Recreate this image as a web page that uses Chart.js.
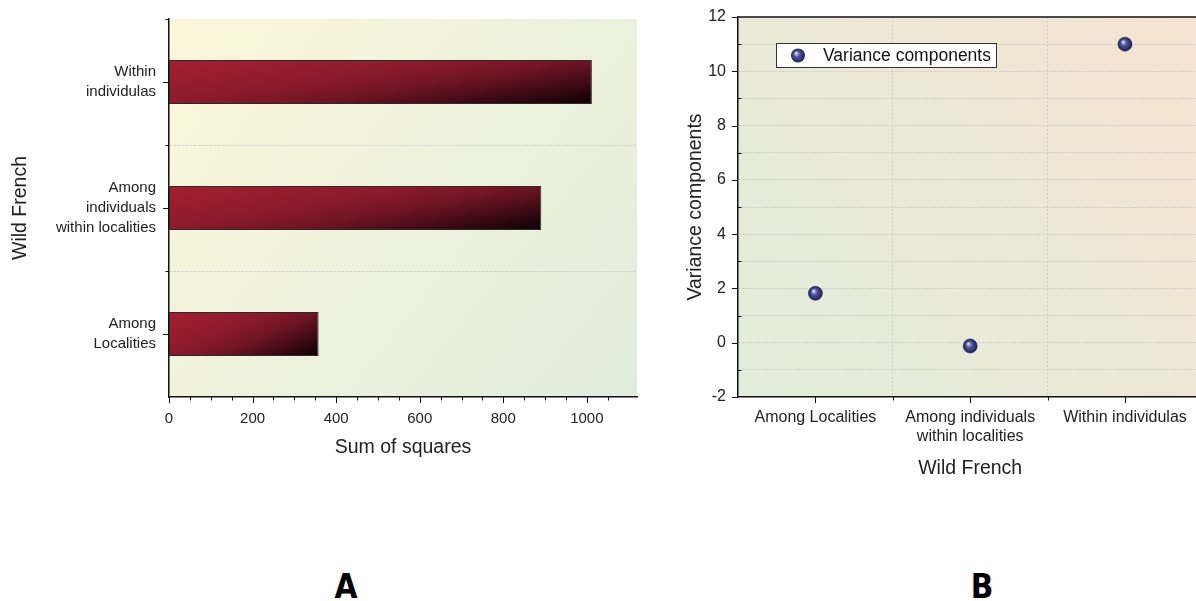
<!DOCTYPE html>
<html>
<head>
<meta charset="utf-8">
<script src="https://cdn.jsdelivr.net/npm/chart.js@4.4.1/dist/chart.umd.min.js"></script>
<style>
html, body { margin: 0; padding: 0; background: #fff; width: 1196px; height: 601px; overflow: hidden; position: relative; }
#caixaA { position: absolute; left: 0; top: 0; }
#caixaB { position: absolute; left: 680px; top: 0; }
.painel { position: absolute; top: 567px; line-height: 1; font: bold 33px 'Liberation Sans Narrow', 'DejaVu Sans Condensed', 'Liberation Sans', sans-serif; color: #000; transform: translateX(-50%); }
</style>
</head>
<body>
<div id="caixaA"><canvas id="graficoA" width="640" height="470"></canvas></div>
<div id="caixaB"><canvas id="graficoB" width="530" height="490"></canvas></div>
<div class="painel" style="left:346px">A</div>
<div class="painel" style="left:982px">B</div>
<script>
Chart.defaults.font.family = "'Liberation Sans', Arial, sans-serif";
Chart.defaults.color = '#222';

// dados
const categorias = ['Among Localities', 'Among individuals within localities', 'Within individulas'];
const rotulosA = [['Among', 'Localities'], ['Among', 'individuals', 'within localities'], ['Within', 'individulas']];
const rotulosB = ['Among Localities', ['Among individuals', 'within localities'], 'Within individulas'];
const somaQuadrados = [358, 891, 1012];
const componentesVariancia = [1.82, -0.12, 11.0];
const eixoSoma = [0, 1120];        // min, max
const passosSoma = [200, 50];      // rotulo, marca menor
const eixoVariancia = [-2, 12];
const passosVariancia = [2, 1];

function gradeCor(c) {
    if (!c.tick || c.index === 0) return 'rgba(0,0,0,0)';
    if (c.scale.type === 'linear' && c.index === c.scale.ticks.length - 1) return 'rgba(0,0,0,0)';
    return '#cacaca';
}

// tamanho fixo do eixo, sem o espaco extra dos rotulos nas pontas
function fixaEixo(s, largura, altura) {
    if (largura) s.width = largura;
    if (altura) s.height = altura;
    s.paddingTop = 0;
    s.paddingBottom = 0;
    s.paddingLeft = 0;
    s.paddingRight = 0;
}

function tracinho(ctx, x1, y1, x2, y2) {
    ctx.beginPath();
    ctx.moveTo(x1, y1);
    ctx.lineTo(x2, y2);
    ctx.stroke();
}

function esfera(ctx, x, y, r) {
    const g = ctx.createRadialGradient(x - r * 0.3, y - r * 0.35, 0, x, y, r);
    g.addColorStop(0, '#f6f6ff');
    g.addColorStop(0.18, '#a9add8');
    g.addColorStop(0.45, '#4b5193');
    g.addColorStop(0.8, '#2f3470');
    g.addColorStop(1, '#1f2356');
    return g;
}

function gradienteBarra(c) {
    const chart = c.chart;
    if (c.type !== 'data' || !chart.chartArea) return '#8a1a2a';
    const { x, y } = chart.scales;
    const x0 = x.getPixelForValue(0);
    const x1 = x.getPixelForValue(c.raw);
    const meia = Math.abs(y.getPixelForValue(1) - y.getPixelForValue(0)) * c.dataset.barPercentage / 2;
    const y0 = y.getPixelForValue(c.dataIndex) - meia;
    const w = Math.max(x1 - x0, 1), h = meia * 2;
    // cor depende de 0.6*u + 0.4*v dentro da barra
    const gx = 0.6 / w, gy = 0.4 / h, n = gx * gx + gy * gy;
    const g = chart.ctx.createLinearGradient(x0, y0, x0 + gx / n, y0 + gy / n);
    g.addColorStop(0, '#a52031');
    g.addColorStop(0.4, '#8a1a2a');
    g.addColorStop(0.6, '#6e1424');
    g.addColorStop(0.8, '#3e0a14');
    g.addColorStop(1, '#0e0003');
    return g;
}

const fundo = {
    id: 'fundo',
    beforeDraw(chart, args, opts) {
        const { ctx, chartArea: a } = chart;
        const g = opts.subindo
            ? ctx.createLinearGradient(a.left, a.bottom, a.right, a.top)
            : ctx.createLinearGradient(a.left, a.top, a.right, a.bottom);
        g.addColorStop(0, opts.de);
        g.addColorStop(1, opts.para);
        ctx.save();
        ctx.fillStyle = g;
        ctx.fillRect(a.left, a.top, a.right - a.left, a.bottom - a.top);
        ctx.restore();
    }
};

const marcasA = {
    id: 'marcasA',
    afterDraw(chart) {
        const { ctx, chartArea: a, scales: { x, y } } = chart;
        ctx.save();
        ctx.strokeStyle = '#111';
        ctx.lineWidth = 1;
        x.ticks.forEach(t => {
            if (t.value % passosSoma[1] !== 0) return;
            const px = Math.round(x.getPixelForValue(t.value)) + 0.5;
            tracinho(ctx, px, a.bottom, px, a.bottom + (t.value % passosSoma[0] === 0 ? 6 : 3.5));
        });
        for (let i = 0; i < categorias.length; i++) {
            const py = Math.round(y.getPixelForValue(i)) + 0.5;
            tracinho(ctx, a.left - 6, py, a.left, py);
            const pb = Math.round(y.getPixelForValue(i + 0.5)) + 0.5;
            tracinho(ctx, a.left - 3.5, pb, a.left, pb);
        }
        ctx.restore();
    }
};

const marcasB = {
    id: 'marcasB',
    afterDraw(chart) {
        const { ctx, chartArea: a, scales: { x, y } } = chart;
        ctx.save();
        ctx.strokeStyle = '#111';
        ctx.lineWidth = 1;
        y.ticks.forEach(t => {
            const py = Math.round(y.getPixelForValue(t.value)) + 0.5;
            if (t.value % passosVariancia[0] === 0) tracinho(ctx, a.left - 6, py, a.left, py);
            else tracinho(ctx, a.left, py, a.left + 3.5, py);
        });
        for (let i = 0; i < categorias.length; i++) {
            const px = Math.round(x.getPixelForValue(i)) + 0.5;
            tracinho(ctx, px, a.bottom, px, a.bottom + 6);
            const pb = Math.round(x.getPixelForValue(i + 0.5)) + 0.5;
            tracinho(ctx, pb, a.bottom, pb, a.bottom + 3.5);
        }
        // linha de cima
        ctx.lineWidth = 1.5;
        tracinho(ctx, a.left, a.top, a.right, a.top);

        // legenda dentro do grafico
        const ds = chart.data.datasets[0];
        ctx.font = "17.5px 'Liberation Sans', Arial, sans-serif";
        const tw = ctx.measureText(ds.label).width;
        const bx = Math.round(a.left + 38), by = Math.round(a.top + 26);
        const bw = Math.round(47 + tw + 5), bh = 24;
        ctx.fillStyle = '#fff';
        ctx.fillRect(bx, by, bw, bh);
        ctx.strokeStyle = '#333';
        ctx.lineWidth = 1;
        ctx.strokeRect(bx + 0.5, by + 0.5, bw, bh);
        const mx = bx + 22, my = by + 12.5;
        ctx.beginPath();
        ctx.arc(mx, my, 7, 0, Math.PI * 2);
        ctx.fillStyle = esfera(ctx, mx, my, 7);
        ctx.fill();
        ctx.fillStyle = '#111';
        ctx.textBaseline = 'middle';
        ctx.textAlign = 'left';
        ctx.fillText(ds.label, bx + 47, my + 1);
        ctx.restore();
    }
};

let graficoSoma = new Chart(document.getElementById('graficoA'), {
    type: 'bar',
    data: {
        labels: categorias,
        datasets: [{
            label: 'Sum of squares',
            data: somaQuadrados,
            backgroundColor: gradienteBarra,
            borderColor: '#2b2b2b',
            borderWidth: 1,
            borderSkipped: false,
            barPercentage: 0.35,
            categoryPercentage: 1
        }]
    },
    plugins: [fundo, marcasA],
    options: {
        indexAxis: 'y',
        responsive: false,
        animation: false,
        layout: { padding: { top: 19, right: 3, left: 0, bottom: 0 } },
        plugins: {
            legend: { display: false },
            tooltip: { enabled: false },
            fundo: { de: '#fbf6da', para: '#e0eddd', subindo: false }
        },
        scales: {
            x: {
                type: 'linear',
                min: eixoSoma[0],
                max: eixoSoma[1],
                grid: { display: false },
                border: { color: '#111', width: 1.5 },
                ticks: {
                    stepSize: passosSoma[1],
                    autoSkip: false,
                    maxRotation: 0,
                    padding: 5,
                    font: { size: 15 },
                    color: '#222',
                    callback: v => (v % passosSoma[0] === 0 ? v : '')
                },
                title: { display: true, text: 'Sum of squares', font: { size: 19.5 }, color: '#222', padding: { bottom: 11 } },
                afterFit: s => fixaEixo(s, 0, 73)
            },
            y: {
                type: 'category',
                reverse: true,
                offset: true,
                grid: { offset: true, color: gradeCor, lineWidth: 1, drawTicks: false },
                border: { color: '#111', width: 1.5, dash: [2, 2] },
                ticks: {
                    padding: 13,
                    autoSkip: false,
                    font: { size: 15, lineHeight: 1.33 },
                    color: '#222',
                    callback: (v, i) => rotulosA[i]
                },
                title: { display: true, text: 'Wild French', font: { size: 19.5 }, color: '#222', padding: { top: 9 } },
                afterFit: s => fixaEixo(s, 169, 0)
            }
        }
    }
});

let graficoVariancia = new Chart(document.getElementById('graficoB'), {
    type: 'line',
    data: {
        labels: categorias,
        datasets: [{
            label: 'Variance components',
            data: componentesVariancia,
            showLine: false,
            pointRadius: 7,
            pointHoverRadius: 7,
            pointBorderWidth: 0.6,
            pointBorderColor: '#1f2356',
            pointBackgroundColor: c => {
                if (c.type !== 'data' || !c.chart.chartArea) return '#2f3470';
                const { x, y } = c.chart.scales;
                return esfera(c.chart.ctx, x.getPixelForValue(c.dataIndex), y.getPixelForValue(c.raw), 7);
            }
        }]
    },
    plugins: [fundo, marcasB],
    options: {
        responsive: false,
        animation: false,
        layout: { padding: { top: 17, right: 4, left: 0, bottom: 0 } },
        plugins: {
            legend: { display: false },
            tooltip: { enabled: false },
            fundo: { de: '#e0eedb', para: '#f7e3d1', subindo: true }
        },
        scales: {
            x: {
                type: 'category',
                offset: true,
                grid: { offset: true, color: gradeCor, lineWidth: 1, drawTicks: false },
                border: { color: '#111', width: 1.5, dash: [2, 2] },
                ticks: {
                    padding: 11,
                    autoSkip: false,
                    maxRotation: 0,
                    font: { size: 16, lineHeight: 1.2 },
                    color: '#222',
                    callback: (v, i) => rotulosB[i]
                },
                title: { display: true, text: 'Wild French', font: { size: 19.5 }, color: '#222', padding: { bottom: 10 } },
                afterFit: s => fixaEixo(s, 0, 93)
            },
            y: {
                type: 'linear',
                min: eixoVariancia[0],
                max: eixoVariancia[1],
                grid: { color: gradeCor, lineWidth: 1, drawTicks: false },
                border: { color: '#111', width: 1.5, dash: [2, 2] },
                ticks: {
                    stepSize: passosVariancia[1],
                    autoSkip: false,
                    padding: 12,
                    font: { size: 16 },
                    color: '#222',
                    callback: v => (v % passosVariancia[0] === 0 ? v : '')
                },
                title: { display: true, text: 'Variance components', font: { size: 19.5 }, color: '#222', padding: { top: 4 } },
                afterFit: s => fixaEixo(s, 58, 0)
            }
        }
    }
});
</script>
</body>
</html>
